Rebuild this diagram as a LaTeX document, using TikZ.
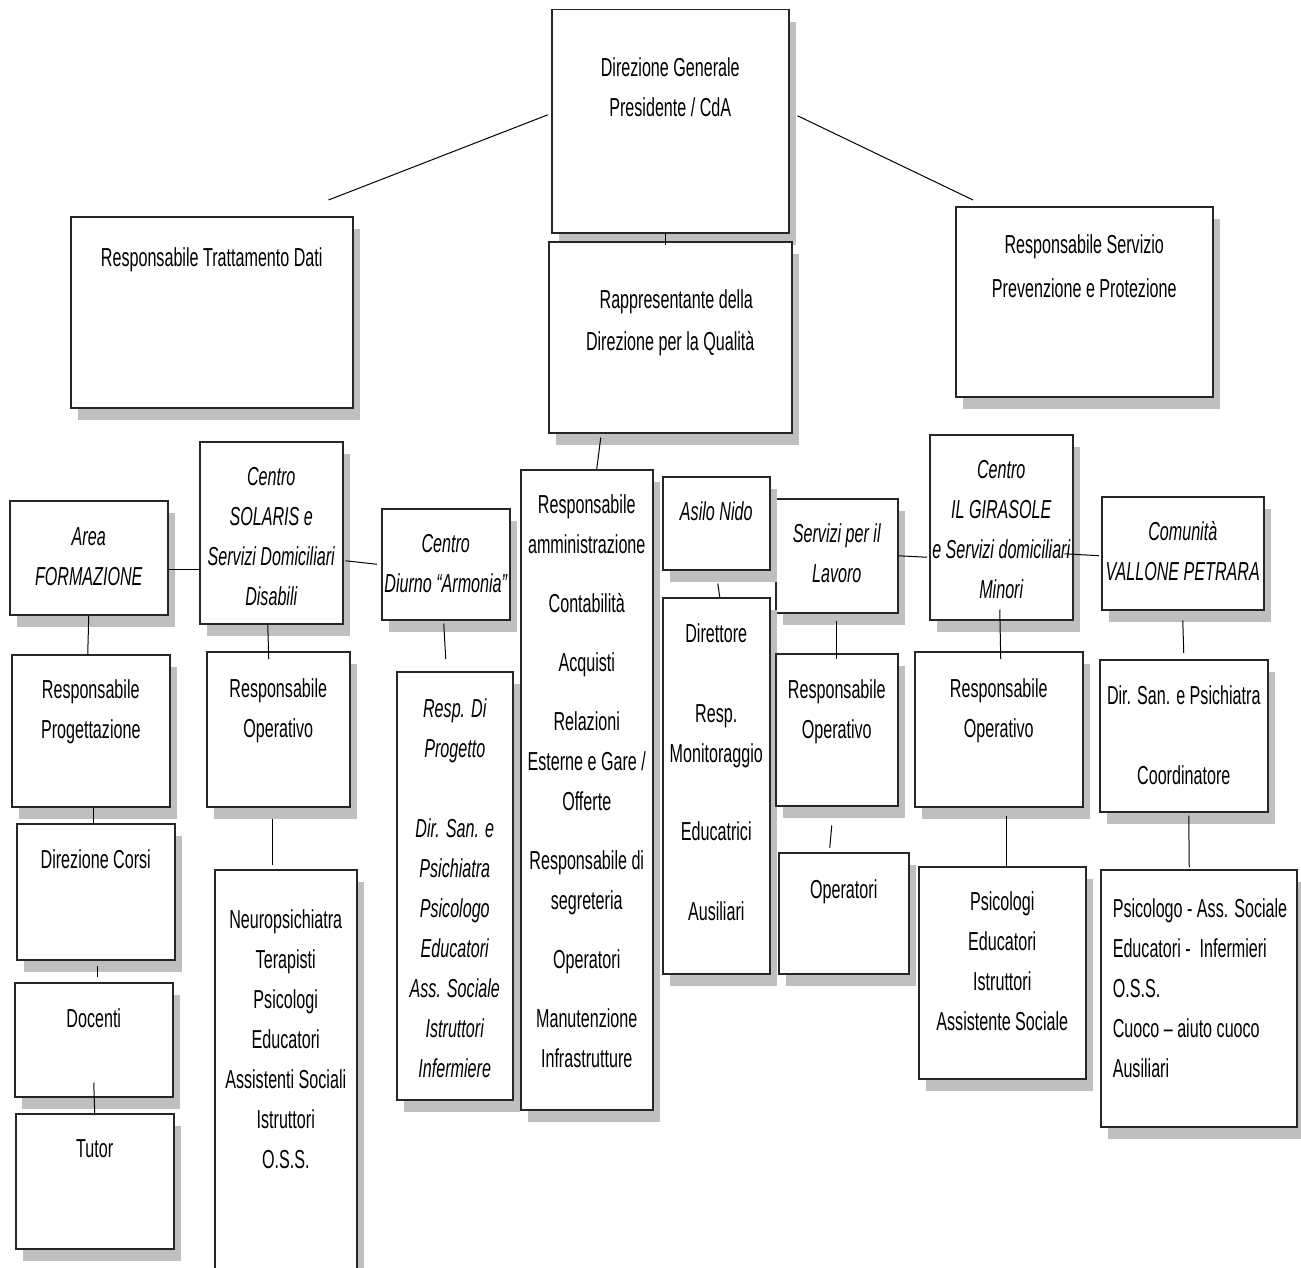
\documentclass[tikz,border=0pt]{standalone}
\usepackage{fontspec}
\setmainfont[FakeStretch=0.62]{Liberation Sans}
\usetikzlibrary{shadows}
\hyphenpenalty=10000
\exhyphenpenalty=10000
\tikzset{
  x = 0.5pt, y = -0.5pt,
  box/.style n args = {3}{draw = black!85, line width = 0.75pt, fill = white,
    drop shadow = {shadow xshift = 3.5pt, shadow yshift = -6pt, fill = black!25, opacity = 1},
    anchor = north west, align = flush center, inner sep = 0pt,
    text width = #1*0.5pt, text height = #3*0.5pt, text depth = (#2-#3)*0.5pt},
  ital/.style = {font = \fontsize{13}{20}\selectfont\itshape},
}

\begin{document}
\begin{tikzpicture}[font = \fontsize{13}{20}\selectfont, line width = 0.5pt]
  \useasboundingbox (0, 0) rectangle (1301, 1268);
  \clip (0, 0) rectangle (1301, 1268);
  % top level
  \node [box = {237}{223}{67}] (dg) at (551, 9) {Direzione Generale\\Presidente / CdA};
  \node [box = {282}{191}{50}] (rtd) at (70, 216) {Responsabile Trattamento Dati\hspace*{10pt}};
  \node [box = {257}{190}{47}] (rspp) at (955, 206) {Responsabile Servizio\\[2pt]Prevenzione e Protezione};
  \node [box = {243}{191}{67}] (rdq) at (548, 241) {\hspace*{6pt}Rappresentante della\\[1pt]Direzione per la Qualità};
  % areas
  \node [box = {158}{114}{45}, ital] (area) at (9, 500) {Area\\FORMAZIONE};
  \node [box = {143}{182}{44}, ital] (solaris) at (199, 441) {Centro\\SOLARIS e\\Servizi Domiciliari\\Disabili};
  \node [box = {128}{111}{44}, ital] (armonia) at (381, 508) {Centro\\Diurno “Armonia”};
  \node [box = {132}{640}{44}] (amm) at (520, 469) {Responsabile\\amministrazione\\[9.5pt]Contabilità\\[9.5pt]Acquisti\\[9.5pt]Relazioni\\Esterne e Gare /\\Offerte\\[9.5pt]Responsabile di\\segreteria\\[9.5pt]Operatori\\[9.5pt]Manutenzione\\Infrastrutture};
  \node [box = {122}{114}{44}, ital] (lavoro) at (775, 498) {Servizi per il\\Lavoro};
  \node [box = {107}{93}{44}, ital] (asilo) at (662, 476) {Asilo Nido};
  \node [box = {107}{376}{45}] (dirett) at (662, 597) {Direttore\\[20pt]Resp.\\Monitoraggio\\[19pt]Educatrici\\[20pt]Ausiliari};
  \node [box = {143}{185}{44}, ital] (girasole) at (929, 434) {Centro\\IL GIRASOLE\\e Servizi domiciliari\\Minori};
  \node [box = {162}{113}{44}, ital] (comunita) at (1101, 496) {Comunità\\VALLONE PETRARA};
  % staff
  \node [box = {158}{152}{44}] (progett) at (11, 654) {Responsabile\\Progettazione};
  \node [box = {158}{136}{45}] (corsi) at (16, 823) {Direzione Corsi};
  \node [box = {158}{114}{45}] (docenti) at (14, 982) {Docenti};
  \node [box = {158}{135}{44}] (tutor) at (15, 1113) {Tutor};
  \node [box = {143}{155}{46}] (ropsol) at (206, 651) {Responsabile\\Operativo};
  \node [box = {142}{420}{59}] (neuro) at (214, 869) {Neuropsichiatra\\Terapisti\\Psicologi\\Educatori\\Assistenti Sociali\\Istruttori\\O.S.S.};
  \node [box = {116}{428}{46}, ital] (respdi) at (396, 671) {Resp. Di\\Progetto\\[20pt]Dir. San. e\\Psichiatra\\Psicologo\\Educatori\\Ass. Sociale\\Istruttori\\Infermiere};
  \node [box = {122}{152}{45}] (roplav) at (775, 653) {Responsabile\\Operativo};
  \node [box = {130}{121}{46}] (operatori) at (778, 852) {Operatori};
  \node [box = {168}{155}{46}] (ropgir) at (914, 651) {Responsabile\\Operativo};
  \node [box = {167}{212}{44}] (psicologi) at (918, 866) {Psicologi\\Educatori\\Istruttori\\Assistente Sociale};
  \node [box = {168}{152}{45}] (dirsan) at (1099, 659) {Dir. San. e Psichiatra\\[20pt]Coordinatore};
  \node [box = {196}{257}{48}, align = flush left, inner xsep = 6pt, text width = 86pt] (psicologo) at (1100, 869)
    {\mbox{Psicologo -\ Ass. Sociale}\\\mbox{Educatori -\ \ Infermieri}\\O.S.S.\\\mbox{Cuoco – aiuto cuoco}\\Ausiliari};
  % links
  \draw ([shift = {(-12.5pt, 8pt)}]rtd.north east) -- ([shift = {(-1.5pt, 3.25pt)}]dg.west);
  \draw ([shift = {(4pt, 2.75pt)}]dg.east) -- ([shift = {(9pt, 3pt)}]rspp.north west);
  \draw ([xshift = -2.25pt]dg.south) -- ([shift = {(-2.25pt, -2pt)}]rdq.north);
  \draw ([xshift = -34.75pt, yshift = -2pt]rdq.south) -- ([xshift = 5pt]amm.north);
  \draw ([yshift = -6pt]area.east) -- ([yshift = -18.5pt]solaris.west);
  \draw ([shift = {(1pt, -14pt)}]solaris.east) -- ([xshift = -2pt]armonia.west);
  \draw (area.south) -- ([xshift = -1.5pt]progett.north);
  \draw ([xshift = 1.5pt]progett.south) -- ([xshift = -1pt]corsi.north);
  \draw ([shift = {(1pt, -2.5pt)}]corsi.south) -- ([shift = {(2pt, 2.5pt)}]docenti.north);
  \draw ([yshift = 7.5pt]docenti.south) -- ([yshift = -1pt]tutor.north);
  \draw ([xshift = -1.75pt]solaris.south) -- ([shift = {(-4.75pt, -4pt)}]ropsol.north);
  \draw ([shift = {(-2.75pt, -5.5pt)}]ropsol.south) -- ([shift = {(-6.5pt, 2pt)}]neuro.north);
  \draw ([shift = {(-1pt, -1.5pt)}]armonia.south) -- ([shift = {(-4.5pt, 6pt)}]respdi.north);
  \draw ([shift = {(0.75pt, -6.5pt)}]asilo.south) -- ([xshift = 1.75pt]dirett.north);
  \draw (lavoro.east) -- ([shift = {(-1pt, -15pt)}]girasole.west);
  \draw ([shift = {(-4.5pt, -13.25pt)}]girasole.east) -- ([shift = {(-1pt, -1.25pt)}]comunita.west);
  \draw ([yshift = -3.5pt]lavoro.south) -- ([yshift = -3pt]roplav.north);
  \draw ([shift = {(-2.5pt, -9.5pt)}]roplav.south) -- ([shift = {(-7pt, 2pt)}]operatori.north);
  \draw ([shift = {(-0.75pt, 5.5pt)}]girasole.south) -- ([shift = {(1pt, -4pt)}]ropgir.north);
  \draw ([shift = {(4pt, -4pt)}]ropgir.south) -- ([xshift = 2.25pt]psicologi.north);
  \draw ([yshift = -5pt]comunita.south) -- ([yshift = 3pt]dirsan.north);
  \draw ([shift = {(2.5pt, -1.5pt)}]dirsan.south) -- ([shift = {(-4.75pt, 1pt)}]psicologo.north);
\end{tikzpicture}
\end{document}
